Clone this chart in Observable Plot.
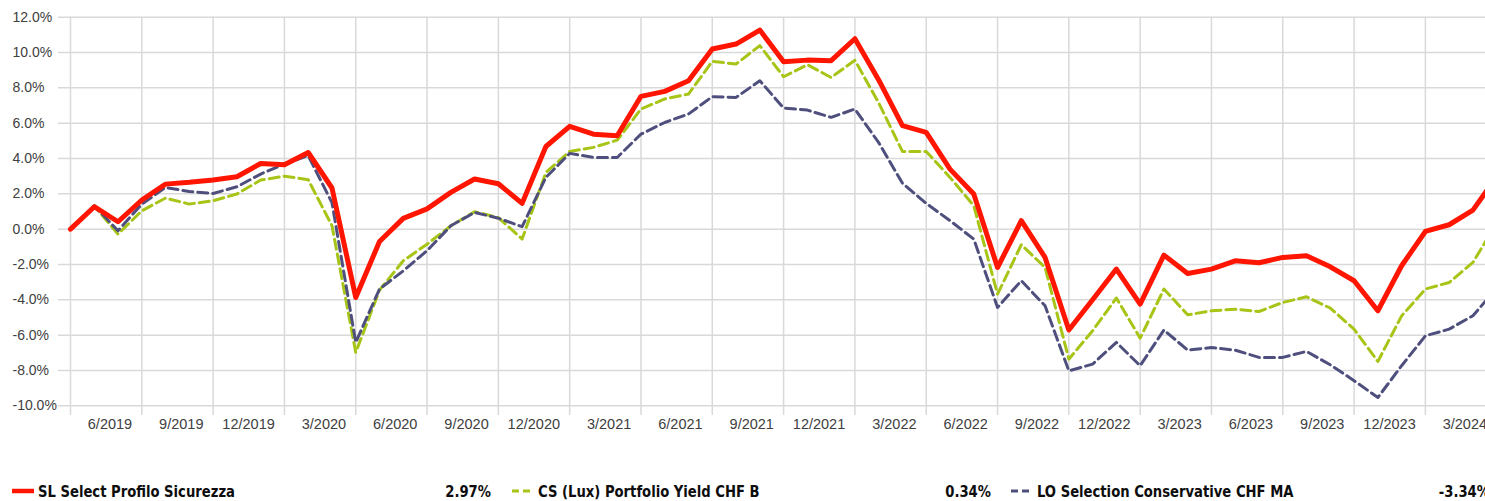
<!DOCTYPE html>
<html><head><meta charset="utf-8">
<script src="https://cdn.jsdelivr.net/npm/d3@7"></script>
<script src="https://cdn.jsdelivr.net/npm/@observablehq/plot@0.6"></script>
<style>
html,body{margin:0;padding:0;background:#fff;overflow:hidden;}
#wrap{width:1485px;height:501px;position:relative;overflow:hidden;}
#chart svg{display:block;}
#legend{position:absolute;left:0;top:480px;width:1600px;height:22px;font-family:"Liberation Sans Narrow","DejaVu Sans Condensed","Liberation Sans",sans-serif;font-weight:bold;font-size:16px;color:#0d0d0d;}
.item{position:absolute;top:0;height:22px;display:flex;align-items:center;width:479px;}
.item svg{flex:none;margin-right:4px;}
.lab{flex:1;white-space:nowrap;display:inline-block;transform:scaleX(0.915);transform-origin:left center;}
.val{white-space:nowrap;display:inline-block;transform:scaleX(0.915);transform-origin:right center;}
</style></head><body><div id="wrap"><div id="chart"></div><div id="legend"></div></div>
<script>
// Monthly cumulative performance (%), month index 0 = 3/2019 ... 60 = 3/2024
const seriesNames = ["SL Select Profilo Sicurezza", "CS (Lux) Portfolio Yield CHF B", "LO Selection Conservative CHF MA"];
const seriesColors = ["#ff1500", "#a6c516", "#4f4f7e"];
const finalValues = ["2.97%", "0.34%", "-3.34%"];

const slValues = [0.00,1.27,0.42,1.65,2.55,2.65,2.78,2.97,3.72,3.65,
  4.34,2.33,-3.87,-0.70,0.61,1.15,2.08,2.84,2.57,1.46,
  4.68,5.82,5.38,5.29,7.52,7.80,8.40,10.20,10.48,11.27,
  9.48,9.57,9.54,10.78,8.45,5.86,5.48,3.40,1.99,-2.17,
  0.48,-1.60,-5.71,-4.00,-2.26,-4.24,-1.47,-2.51,-2.26,-1.79,
  -1.90,-1.60,-1.51,-2.13,-2.92,-4.62,-2.07,-0.13,0.25,1.08,2.97];

const csValues = [0.00,1.32,-0.28,1.04,1.76,1.42,1.61,1.99,2.78,3.00,
  2.80,0.20,-6.98,-3.45,-1.79,-0.85,0.19,0.99,0.65,-0.56,
  3.21,4.40,4.63,5.04,6.80,7.37,7.65,9.50,9.35,10.39,
  8.63,9.31,8.59,9.56,7.15,4.40,4.40,2.93,1.33,-3.68,
  -0.88,-2.17,-7.36,-5.75,-3.90,-6.17,-3.39,-4.85,-4.62,-4.53,
  -4.66,-4.15,-3.83,-4.47,-5.66,-7.49,-4.91,-3.39,-3.02,-1.88,0.34];

const loValues = [0.00,1.32,-0.09,1.42,2.36,2.13,2.02,2.40,3.12,3.69,
  4.16,1.50,-6.41,-3.39,-2.36,-1.22,0.19,0.95,0.62,0.14,
  2.93,4.29,4.06,4.06,5.38,6.04,6.52,7.50,7.46,8.40,
  6.86,6.74,6.33,6.80,4.90,2.60,1.46,0.48,-0.56,-4.43,
  -2.92,-4.34,-8.02,-7.64,-6.41,-7.73,-5.71,-6.85,-6.70,-6.85,
  -7.26,-7.26,-6.92,-7.68,-8.58,-9.53,-7.73,-6.04,-5.66,-4.90,-3.34];

const quarterLabels = ["6/2019","9/2019","12/2019","3/2020","6/2020","9/2020","12/2020","3/2021",
  "6/2021","9/2021","12/2021","3/2022","6/2022","9/2022","12/2022","3/2023","6/2023","9/2023","12/2023","3/2024"];

const yTicks = [-10,-8,-6,-4,-2,0,2,4,6,8,10,12];
const gridTicks = quarterLabels.map((_, k) => 3 * k).concat([60]);
const labelTicks = quarterLabels.map((_, k) => 3 * k + 1.5);

const grid = {stroke: "#d9d9d9", strokeOpacity: 1, strokeWidth: 1.5};

const chart = Plot.plot({
  width: 1485, height: 440,
  marginLeft: 58, marginRight: 0, marginTop: 16.7, marginBottom: 25,
  style: {fontFamily: "'Liberation Sans', Arial, sans-serif", background: "transparent", color: "#404040"},
  x: {type: "linear", domain: [0, 60], range: [70, 1496.2], label: null},
  y: {domain: [-10, 12], range: [405.3, 16.7], label: null},
  marks: [
    Plot.gridY({ticks: yTicks, ...grid}),
    Plot.gridX({ticks: gridTicks, ...grid}),
    Plot.axisY({ticks: yTicks, tickSize: 0, tickPadding: 0, textAnchor: "start", dx: -46,
      tickFormat: d => d.toFixed(1) + "%", fontSize: 14, fill: "#404040", label: null}),
    Plot.axisX({ticks: labelTicks, tickSize: 0, tickPadding: 3, textAnchor: "end", dx: 26,
      tickFormat: d => quarterLabels[Math.round((d - 1.5) / 3)], fontSize: 14.5, fill: "#404040", label: null}),
    Plot.line(csValues, {x: (d, i) => i, y: d => d, stroke: seriesColors[1], strokeWidth: 3, strokeDasharray: "10,5", strokeLinejoin: "round"}),
    Plot.line(loValues, {x: (d, i) => i, y: d => d, stroke: seriesColors[2], strokeWidth: 3, strokeDasharray: "10,5", strokeLinejoin: "round"}),
    Plot.line(slValues, {x: (d, i) => i, y: d => d, stroke: seriesColors[0], strokeWidth: 5, strokeLinejoin: "round"})
  ]
});
document.getElementById("chart").append(chart);

const legend = document.getElementById("legend");
seriesNames.forEach((name, k) => {
  const item = document.createElement("div");
  item.className = "item";
  item.style.left = (12 + k * 499.5) + "px";
  const dash = k === 0 ? "" : ' stroke-dasharray="7,4"';
  const sw = k === 0 ? 4.5 : 3;
  item.innerHTML = `<svg width="22" height="6"><line x1="0" x2="22" y1="3" y2="3" stroke="${seriesColors[k]}" stroke-width="${sw}"${dash}/></svg><span class="lab">${name}</span><span class="val">${finalValues[k]}</span>`;
  legend.append(item);
});
</script>
</body></html>
